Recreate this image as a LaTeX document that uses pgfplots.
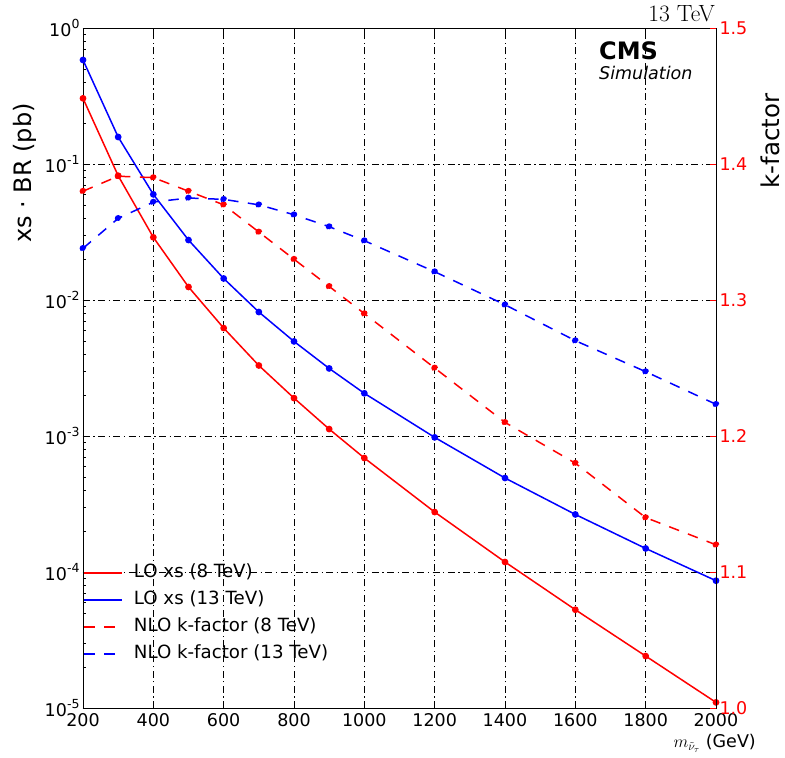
\documentclass[border=0pt]{standalone}
\usepackage{fontspec}
\newfontfamily\dejavu{DejaVu Sans}
\usepackage{pgfplots}
\usepackage{pgfplotstable}
\pgfplotsset{compat=1.18}

% powers of ten for the log axis, set in the text font
\newcommand{\dec}[1]{10\raisebox{0.5em}{\fontsize{12.5}{12.5}\selectfont #1}}

% LO cross sections (pb) and NLO k-factors versus sneutrino mass (GeV)
\pgfplotstableread{
m     lo8       lo13      k8     k13
200   0.304     0.582     1.380  1.338
300   0.082     0.158     1.391  1.360
400   0.0289    0.0598    1.390  1.372
500   0.01247   0.0276    1.380  1.375
600   0.00622   0.0144    1.370  1.374
700   0.00330   0.00816   1.350  1.370
800   0.00190   0.00496   1.330  1.3627
900   0.001125  0.00314   1.310  1.3539
1000  0.000689  0.00206   1.290  1.3436
1200  0.000276  0.000977  1.250  1.3208
1400  0.0001185 0.000491  1.210  1.2965
1600  5.28e-5   0.000265  1.180  1.2701
1800  2.41e-5   0.000149  1.140  1.2473
2000  1.10e-5   8.63e-5   1.120  1.2233
}\xsdata

\pgfplotsset{
  common/.style={
    at={(83pt,50pt)}, anchor=south west,
    scale only axis, width=633pt, height=680pt,
    xmin=200, xmax=2000,
    tick align=inside,
    major tick length=6pt, minor tick length=3.5pt,
    tick label style={font=\dejavu\fontsize{17.5}{20}\selectfont},
    /pgf/number format/assume math mode=true,
    /pgf/number format/1000 sep={},
    axis line style={-, line width=0.8pt},
  },
  dot/.style={mark=*, mark size=2.6pt, line width=1.5pt},
  kdash/.style={dash pattern=on 10.5pt off 9.5pt},
}

\begin{document}
\begin{tikzpicture}[font=\dejavu]
\useasboundingbox (0,0) rectangle (785pt,758pt);

% left axis: cross sections
\begin{axis}[common,
  ymode=log, ymin=1e-5, ymax=1,
  xtick={200,400,...,2000},
  ytick={1e-5,1e-4,1e-3,1e-2,1e-1,1},
  yticklabels={\dec{-5},\dec{-4},\dec{-3},\dec{-2},\dec{-1},\dec{0}},
  ytick pos=left,
  every tick/.style={black, line width=0.8pt},
  grid=major,
  major grid style={black, line width=0.9pt, dash pattern=on 7pt off 3.5pt on 1.2pt off 3.5pt},
  xticklabel style={yshift=-2pt},
]
\addplot[red, dot] table[x=m, y=lo8] {\xsdata};
\addplot[blue, dot] table[x=m, y=lo13] {\xsdata};
\end{axis}

% right axis: k-factors
\begin{axis}[common,
  ymin=1, ymax=1.5,
  axis y line*=right, axis x line=none,
  ytick={1.0,1.1,1.2,1.3,1.4,1.5},
  yticklabel style={red, /pgf/number format/.cd, fixed, fixed zerofill, precision=1},
  ytick style={red, line width=0.8pt},
  legend style={at={(0,0.2125)}, anchor=north west, draw=none, fill=none,
    font=\dejavu\fontsize{18.2}{21}\selectfont, inner sep=0pt,
    nodes={inner sep=0pt, text height=13.5pt, text depth=4.5pt},
    row sep=9.1pt,
    /tikz/every odd column/.append style={column sep=11pt}},
  legend cell align=left,
  legend image code/.code={\draw[line width=1.7pt, #1] (0pt,0pt) -- (38pt,0pt);},
]
\addlegendimage{red, solid}
\addlegendentry{LO xs (8 TeV)}
\addlegendimage{blue, solid}
\addlegendentry{LO xs (13 TeV)}
\addlegendimage{red, kdash}
\addlegendentry{NLO k-factor (8 TeV)}
\addlegendimage{blue, kdash}
\addlegendentry{NLO k-factor (13 TeV)}
\addplot[red, dot, kdash] table[x=m, y=k8] {\xsdata};
\addplot[blue, dot, kdash] table[x=m, y=k13] {\xsdata};
\end{axis}

% titles and axis labels
\node[rotate=90, font=\dejavu\fontsize{24}{28}\selectfont] at (25pt,585pt) {xs · BR (pb)};
\node[rotate=90, font=\dejavu\fontsize{24.5}{28}\selectfont] at (770pt,617pt) {k-factor};
\node[anchor=base east, font=\rmfamily\fontsize{23.5}{26}\selectfont, inner sep=0pt] at (715pt,736pt) {13 TeV};
\node[anchor=base west, font=\dejavu\bfseries\fontsize{24}{28}\selectfont, inner sep=0pt] at (599pt,698pt) {CMS};
\node[anchor=base west, font=\dejavu\itshape\fontsize{17.5}{20}\selectfont, inner sep=0pt] at (599pt,678pt) {Simulation};
\node[anchor=base east, font=\dejavu\fontsize{17.5}{20}\selectfont, inner sep=0pt] at (756pt,10pt) {$m_{\tilde{\nu}_\tau}$ (GeV)};
\end{tikzpicture}
\end{document}
